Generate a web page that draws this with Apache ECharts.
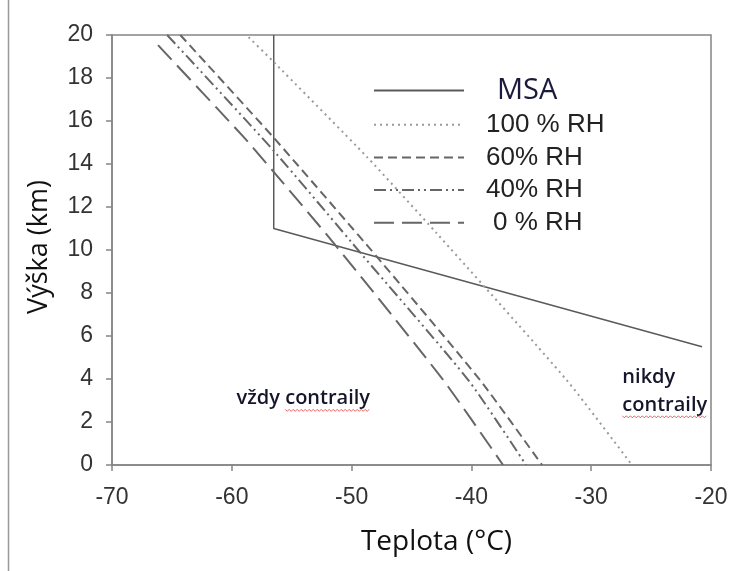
<!DOCTYPE html>
<html><head><meta charset="utf-8">
<script src="https://cdn.jsdelivr.net/npm/echarts/dist/echarts.min.js"></script>
<style>html,body{margin:0;padding:0;background:#fff}#c{width:749px;height:571px}</style>
</head><body><div id="c"></div>
<script>
// ---- data (temperature °C, height km) ----
const xTickValues = [-70, -60, -50, -40, -30, -20];
const yTickValues = [0, 2, 4, 6, 8, 10, 12, 14, 16, 18, 20];
const seriesNames = ['MSA', '100 % RH', '60% RH', '40% RH', '0 % RH'];
const msa   = [[-56.5, 20], [-56.5, 11], [-20.75, 5.5]];
const rh100 = [[-58.6, 19.9], [-56.67, 18.84], [-48.74, 14.34], [-42.9, 10.78], [-32.05, 3.95], [-26.6, 0]];
const rh60  = [[-64.3, 20], [-56.56, 15.26], [-47.9, 9.69], [-39.28, 3.95], [-34.1, 0]];
const rh40  = [[-65.4, 20], [-56.56, 14.65], [-49.16, 9.8], [-40.26, 3.95], [-35.44, 0]];
const rh0   = [[-66.16, 19.53], [-59.04, 15.27], [-56.56, 13.67], [-51.24, 10.15], [-42.35, 3.95], [-37.36, 0]];
const annotations = [
  {text: 'vždy ', under: 'contraily', at: [-59.6, 3.1]},
  {text: '', under: 'nikdy', at: [-27.4, 4.1], noWave: true},
  {text: '', under: 'contraily', at: [-27.4, 2.8]}
];

const chart = echarts.init(document.getElementById('c'));
const lineCol = '#666';
function ser(name, data, color, width, type, smooth) {
  return {name, type: 'line', data, symbol: 'none', smooth, animation: false,
    lineStyle: {color, width, type}, itemStyle: {color}};
}
const axisCommon = {
  axisLine: {show: true, lineStyle: {color: '#858585', width: 1.5}},
  axisTick: {show: true, length: 6, lineStyle: {color: '#858585', width: 1.5}},
  splitLine: {show: false},
  axisLabel: {fontSize: 23, color: '#333', fontFamily: 'Liberation Sans'}
};
chart.setOption({
  animation: false,
  grid: {left: 112, right: 38, top: 35, bottom: 106, show: true, borderColor: '#858585', borderWidth: 1.5},
  xAxis: Object.assign({}, axisCommon, {type: 'value', min: -70, max: -20, interval: 10,
    name: 'Teplota (°C)', nameLocation: 'middle', nameGap: 63,
    nameTextStyle: {fontSize: 28, color: '#111', fontFamily: 'Open Sans', padding: [0, 0, 0, 50]},
    axisLabel: Object.assign({}, axisCommon.axisLabel, {margin: 21})}),
  yAxis: Object.assign({}, axisCommon, {type: 'value', min: 0, max: 20, interval: 2,
    name: 'Výška (km)', nameLocation: 'middle', nameGap: 59, nameRotate: 90,
    nameTextStyle: {fontSize: 27, color: '#111', fontFamily: 'Open Sans', padding: [0, 0, 0, 6]},
    axisLabel: Object.assign({}, axisCommon.axisLabel, {margin: 19})}),
  legend: {
    orient: 'vertical', left: 368, top: 71, itemWidth: 90, itemHeight: 14, itemGap: 6.7,
    itemStyle: {opacity: 0},
    textStyle: {fontSize: 26, color: '#222', fontFamily: 'Liberation Sans', padding: [0, 0, 0, 17]},
    data: [
      {name: seriesNames[0], textStyle: {fontSize: 29, color: '#1a1a3c', fontFamily: 'Open Sans', padding: [0, 0, 0, 28]}},
      {name: seriesNames[1]}, {name: seriesNames[2]}, {name: seriesNames[3]},
      {name: seriesNames[4], textStyle: {padding: [0, 0, 0, 24]}}
    ]
  },
  series: [
    ser(seriesNames[0], msa, '#5a5a5a', 1.5, 'solid', false),
    ser(seriesNames[1], rh100, '#9a9a9a', 2, [2, 4], 0.2),
    ser(seriesNames[2], rh60, lineCol, 2, [9, 5], 0.2),
    ser(seriesNames[3], rh40, lineCol, 2, [12, 4, 2, 4, 2, 4], 0.2),
    ser(seriesNames[4], rh0, lineCol, 2, [20, 8], 0.2)
  ]
});

// annotations positioned through the axes
const font = '600 20px "Open Sans"';
const cv = document.createElement('canvas').getContext('2d');
cv.font = font;
const g = [];
annotations.forEach(a => {
  const p = chart.convertToPixel({gridIndex: 0}, a.at);
  const full = a.text + a.under;
  g.push({type: 'text', x: p[0], y: p[1], style: {text: full, font: font, fill: '#15152a', verticalAlign: 'middle', align: 'left'}});
  if (!a.noWave) {
    const x0 = p[0] + cv.measureText(a.text).width;
    const x1 = p[0] + cv.measureText(full).width;
    const y = p[1] + 12;
    const pts = [];
    let up = true;
    for (let x = x0; x <= x1; x += 2) { pts.push([x, y + (up ? -1 : 1)]); up = !up; }
    g.push({type: 'polyline', shape: {points: pts}, style: {stroke: '#e23b3b', lineWidth: 0.8, fill: null}});
  }
});
g.push({type: 'line', shape: {x1: 8.5, y1: 0, x2: 8.5, y2: 571}, style: {stroke: '#999', lineWidth: 1.5}});
chart.setOption({graphic: g});
</script></body></html>
